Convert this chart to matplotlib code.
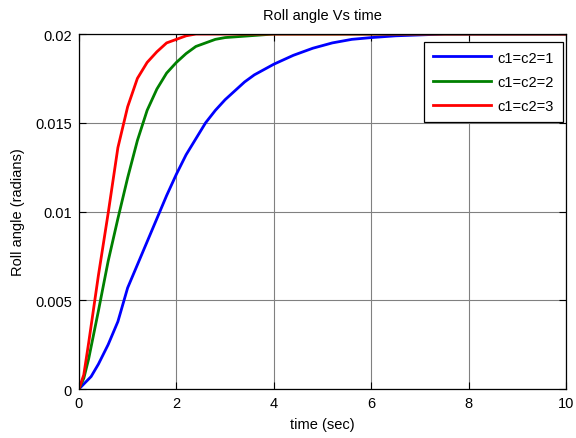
import numpy as np
import matplotlib
matplotlib.use('Agg')
import matplotlib.pyplot as plt

plt.rcParams['font.family'] = ['Liberation Sans', 'DejaVu Sans']

# roll angle step responses for three gain settings
t1 = [0, 0.25, 0.4, 0.6, 0.8, 1.0, 1.2, 1.4, 1.6, 1.8, 2.0, 2.2, 2.4, 2.6,
      2.8, 3.0, 3.2, 3.4, 3.6, 3.8, 4.0, 4.4, 4.8, 5.2, 5.6, 6.0, 6.5, 7.0,
      7.5, 8.0, 10]
phi1 = [0, 0.0007, 0.0014, 0.0025, 0.0038, 0.0057, 0.0070, 0.0083, 0.0096,
        0.0109, 0.0121, 0.0132, 0.0141, 0.0150, 0.0157, 0.0163, 0.0168,
        0.0173, 0.0177, 0.0180, 0.0183, 0.0188, 0.0192, 0.0195, 0.0197,
        0.0198, 0.0199, 0.01995, 0.0200, 0.0200, 0.0200]

t2 = [0, 0.1, 0.2, 0.4, 0.6, 0.8, 1.0, 1.2, 1.4, 1.6, 1.8, 2.0, 2.2, 2.4,
      2.6, 2.8, 3.0, 3.5, 4.0, 10]
phi2 = [0, 0.0006, 0.0017, 0.0044, 0.0072, 0.0096, 0.0119, 0.0140, 0.0157,
        0.0169, 0.0178, 0.0184, 0.0189, 0.0193, 0.0195, 0.0197, 0.0198,
        0.0199, 0.0200, 0.0200]

t3 = [0, 0.1, 0.2, 0.4, 0.6, 0.8, 1.0, 1.2, 1.4, 1.6, 1.8, 2.0, 2.2, 2.4,
      2.6, 10]
phi3 = [0, 0.0008, 0.0026, 0.0064, 0.0099, 0.0136, 0.0159, 0.0175, 0.0184,
        0.0190, 0.0195, 0.0197, 0.0199, 0.0200, 0.0200, 0.0200]

labels = ['c1=c2=1', 'c1=c2=2', 'c1=c2=3']
colors = ['#0000ff', '#008000', '#ff0000']

fig = plt.figure(figsize=(5.76, 4.39), dpi=100)
ax = fig.add_axes([0.137, 0.1116, 0.846, 0.8086])

for t, phi, lab, c in zip([t1, t2, t3], [phi1, phi2, phi3], labels, colors):
    ax.plot(t, phi, color=c, lw=2, label=lab)

fs = 10.5
ax.set_xlim(0, 10)
ax.set_ylim(0, 0.02)
ax.set_xticks(np.arange(0, 11, 2))
ax.set_yticks([0, 0.005, 0.01, 0.015, 0.02])
ax.set_yticklabels(['0', '0.005', '0.01', '0.015', '0.02'])
ax.grid(True, color='#808080', lw=0.8)
ax.tick_params(direction='in', top=True, right=True, labelsize=fs,
               length=5, width=0.8, pad=5)
for s in ax.spines.values():
    s.set_linewidth(0.9)

ax.set_title('Roll angle Vs time', fontsize=fs, pad=11)
ax.set_xlabel('time (sec)', fontsize=fs, labelpad=5)
ax.set_ylabel('Roll angle (radians)', fontsize=fs, labelpad=7)

leg = ax.legend(loc='upper right', bbox_to_anchor=(0.993, 0.978),
                fontsize=fs, fancybox=False, framealpha=1,
                edgecolor='black', handlelength=4.0, handletextpad=0.45,
                borderpad=0.6, labelspacing=0.7, borderaxespad=0)
leg.get_frame().set_linewidth(0.9)

fig.savefig('out.png', dpi=100)
